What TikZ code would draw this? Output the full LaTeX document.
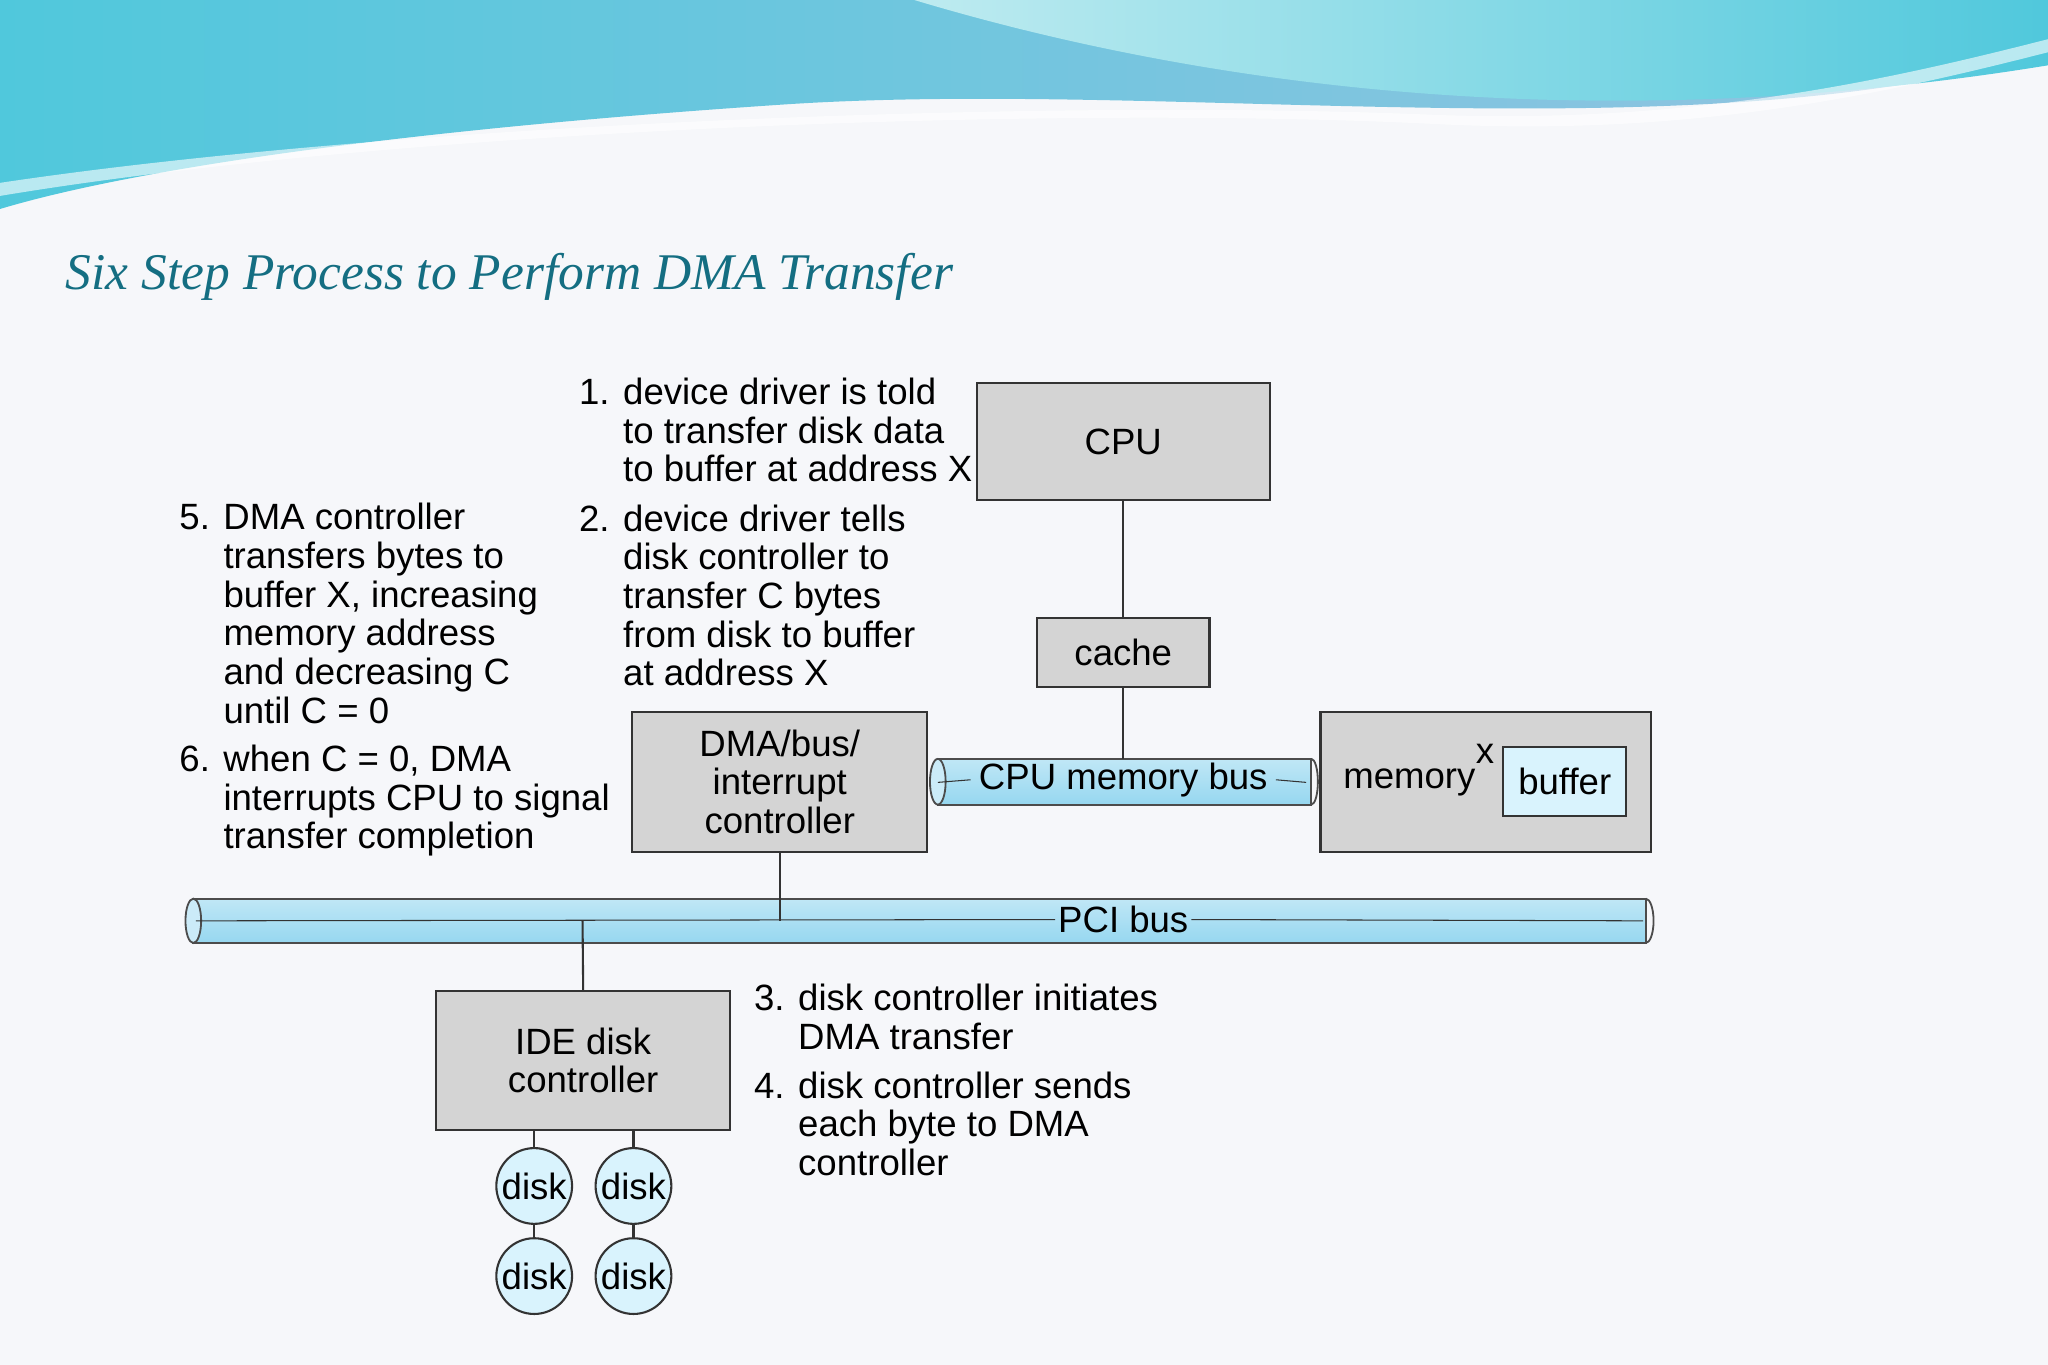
\documentclass[tikz,border=0pt]{standalone}
\usepackage{fontspec}
\setmainfont{Liberation Sans}
\newfontfamily\titlefont{Liberation Serif}
\begin{document}
\begin{tikzpicture}[x=0.5pt,y=-0.5pt,
  box/.style={draw=black!80,fill=black!17,line width=0.8pt},
  lbl/.style={font=\fontsize{14}{14.8}\selectfont,inner sep=0pt},
  stxt/.style={lbl,align=left,anchor=north west},
  wire/.style={draw=black!80,line width=0.8pt},
  disk/.style={circle,draw=black!80,fill=cyan!15,line width=0.8pt,minimum size=29pt,inner sep=0pt,font=\fontsize{14}{14.8}\selectfont}]
\definecolor{bg}{RGB}{246,247,250}
\definecolor{busb}{RGB}{150,215,240}
\definecolor{title}{RGB}{20,110,130}
\definecolor{w1}{RGB}{80,200,220}
\definecolor{w2}{RGB}{150,195,225}
\definecolor{w3}{RGB}{190,235,240}
\useasboundingbox (0,0) rectangle (1568,1045);
\fill[bg] (0,0) rectangle (1568,1045);
% top waves
\shade[left color=w1,right color=w2] (0,0) -- (1568,0) -- (1568,40) .. controls (1300,120) and (900,60) .. (600,80) .. controls (300,100) and (100,130) .. (0,160) -- cycle;
\shade[left color=w3,right color=w1] (700,0) .. controls (900,60) and (1200,110) .. (1568,50) -- (1568,0) -- cycle;
\fill[white,opacity=0.6] (0,150) .. controls (300,100) and (800,80) .. (1100,95) .. controls (1300,105) and (1450,70) .. (1568,40) -- (1568,30) .. controls (1450,60) and (1300,95) .. (1100,88) .. controls (800,75) and (300,95) .. (0,140) -- cycle;
\node[anchor=base west,inner sep=0pt,text=title,font=\titlefont\itshape\fontsize{19.7}{24}\selectfont] (title) at (50,222) {Six Step Process to Perform DMA Transfer};
% boxes
\node[box,minimum width=112pt,minimum height=45pt,lbl] (cpu) at (860,338) {CPU};
\node[box,minimum width=66pt,minimum height=26.5pt,lbl] (cache) at (860,499.5) {cache};
\node[box,minimum width=113pt,minimum height=53.5pt,lbl,align=center] (dma) at (597,598.5) {DMA/bus/\\interrupt\\controller};
\node[box,minimum width=126.5pt,minimum height=53.5pt] (mem) at (1137.5,598.5) {};
\node[lbl] (memt) at (1079,599) {memory};
\node[draw=black!80,fill=cyan!15,line width=0.8pt,minimum width=47pt,minimum height=26.5pt,lbl] (buf) at (1198,598.5) {buffer};
\node[lbl] (x) at (1137,577) {x};
\node[box,minimum width=112.5pt,minimum height=53pt,lbl,align=center] (ide) at (446.5,812) {IDE disk\\controller};
% CPU memory bus
\shade[top color=busb!60,bottom color=busb,draw=black!70,line width=0.7pt] (718,581) rectangle (1004,616);
\draw[black!70,line width=0.7pt,fill=busb!50] (718,598.5) ellipse (6 and 17.5);
\draw[black!70,line width=0.7pt] (1004,581) arc (-90:90:5 and 17.5);
\node[lbl,inner sep=3pt] (cmb) at (860,597) {CPU memory bus};
\coordinate (cl) at (718,599);
\coordinate (cr) at (1000,599);
\draw[black!80] (cl) -- (cmb.west);
\draw[black!80] (cmb.east) -- (cr);
% PCI bus
\shade[top color=busb!60,bottom color=busb,draw=black!70,line width=0.7pt] (148,688) rectangle (1260,722);
\draw[black!70,line width=0.7pt,fill=busb!50] (148,705) ellipse (6 and 17);
\draw[black!70,line width=0.7pt] (1260,688) arc (-90:90:6 and 17);
\node[lbl,inner sep=1pt] (pci) at (860,704) {PCI bus};
\coordinate (pl) at (150,705);
\coordinate (pr) at (1258,705);
\draw[black!80] (pl) -- (pci.west);
\draw[black!80] (pci.east) -- (pr);
\coordinate (dmab) at (597,705);
\coordinate (ideb) at (446,705);
\coordinate (cmbt) at (860,581);
% wires
\draw[wire] (cpu.south) -- (cache.north);
\draw[wire] (cache.south) -- (cmbt);
\draw[wire] (dma.south) -- (dmab);
\draw[wire] (ide.north) -- (ideb);
% disks
\node[disk] (d1) at (409,908) {disk};
\node[disk] (d2) at (485,908) {disk};
\node[disk] (d3) at (409,977) {disk};
\node[disk] (d4) at (485,977) {disk};
\draw[wire] (d1.north) -- (d1.north |- ide.south);
\draw[wire] (d2.north) -- (d2.north |- ide.south);
\draw[wire] (d1) -- (d3);
\draw[wire] (d2) -- (d4);
% steps
\node[stxt] (s1) at (443,289) {1. device driver is told\\\phantom{1. }to transfer disk data\\\phantom{1. }to buffer at address X};
\node[stxt] (s2) at (443,386) {2. device driver tells\\\phantom{2. }disk controller to\\\phantom{2. }transfer C bytes\\\phantom{2. }from disk to buffer\\\phantom{2. }at address X};
\node[stxt] (s5) at (137,385) {5. DMA controller\\\phantom{5. }transfers bytes to\\\phantom{5. }buffer X, increasing\\\phantom{5. }memory address\\\phantom{5. }and decreasing C\\\phantom{5. }until C = 0};
\node[stxt] (s6) at (137,570) {6. when C = 0, DMA\\\phantom{6. }interrupts CPU to signal\\\phantom{6. }transfer completion};
\node[stxt] (s3) at (577,753) {3. disk controller initiates\\\phantom{3. }DMA transfer};
\node[stxt] (s4) at (577,820) {4. disk controller sends\\\phantom{4. }each byte to DMA\\\phantom{4. }controller};
\end{tikzpicture}
\end{document}
